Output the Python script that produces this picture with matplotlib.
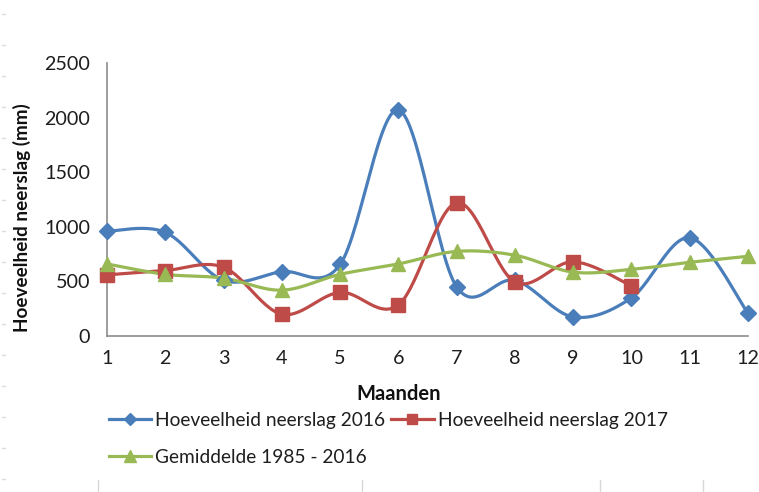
import numpy as np
import matplotlib.pyplot as plt

# data
months = [1, 2, 3, 4, 5, 6, 7, 8, 9, 10, 11, 12]
rain_2016 = [960, 950, 510, 590, 655, 2070, 450, 510, 175, 350, 900, 210]
months_2017 = [1, 2, 3, 4, 5, 6, 7, 8, 9, 10]
rain_2017 = [560, 600, 630, 200, 400, 285, 1220, 495, 680, 460]
avg_1985_2016 = [660, 565, 530, 420, 565, 660, 775, 740, 585, 610, 675, 730]

labels = ["Hoeveelheid neerslag 2016", "Hoeveelheid neerslag 2017", "Gemiddelde 1985 - 2016"]
colors = ["#4A7EBB", "#BE4B48", "#98B954"]
yticks = [0, 500, 1000, 1500, 2000, 2500]

plt.rcParams['font.family'] = ['Lato', 'DejaVu Sans']


def smooth(x, y, n=30):
    # Excel-style smoothed line: cubic Bezier, control points from neighbours / 6
    p = np.column_stack([x, y]).astype(float)
    ext = np.vstack([p[0], p, p[-1]])
    t = np.linspace(0, 1, n)[:, None]
    segs = []
    for i in range(len(p) - 1):
        p0, p3 = ext[i + 1], ext[i + 2]
        c1 = p0 + (ext[i + 2] - ext[i]) / 6
        c2 = p3 - (ext[i + 3] - ext[i + 1]) / 6
        segs.append((1 - t) ** 3 * p0 + 3 * (1 - t) ** 2 * t * c1 + 3 * (1 - t) * t ** 2 * c2 + t ** 3 * p3)
    s = np.vstack(segs)
    return s[:, 0], s[:, 1]


fig = plt.figure(figsize=(7.59, 4.92), dpi=100)
ax = fig.add_axes([0.141, 0.317, 0.8445, 0.555])

series = [(months, rain_2016, 'D', 8), (months_2017, rain_2017, 's', 9.5), (months, avg_1985_2016, '^', 10)]
handles = []
for (x, y, m, ms), c, lab in zip(series, colors, labels):
    sx, sy = smooth(x, y)
    ax.plot(sx, sy, color=c, lw=2.3, clip_on=False, zorder=3)
    ax.plot(x, y, ls='none', marker=m, ms=ms, color=c, clip_on=False, zorder=4)
    h, = ax.plot([], [], color=c, lw=2.3, marker=m, ms=ms * 0.8)
    handles.append(h)

ax.set_xlim(1, 12)
ax.set_ylim(0, 2500)
ax.set_xticks(months)
ax.set_yticks(yticks)
ax.tick_params(length=0, labelsize=14.2, colors='#1E1E1E', pad=12)
ax.tick_params(axis='x', pad=10)
for side in ['top', 'right']:
    ax.spines[side].set_visible(False)
for side in ['left', 'bottom']:
    ax.spines[side].set_color('#8C8C8C')
    ax.spines[side].set_linewidth(1.2)

fig.text(0.029, 0.558, "Hoeveelheid neerslag (mm)", rotation=90, ha='center', va='center',
         fontsize=13.6, fontweight='bold', color='#111111')
fig.text(0.525, 1 - 394 / 492, "Maanden", ha='center', va='center', fontsize=14.5,
         fontweight='bold', color='#111111')

fig.legend([handles[0], handles[2], handles[1]], [labels[0], labels[2], labels[1]],
           ncol=2, loc='upper left', bbox_to_anchor=(0.143, 1 - 412 / 492), frameon=False,
           fontsize=13.8, borderpad=0, borderaxespad=0, handlelength=2.2, handletextpad=0.25,
           columnspacing=0.3, labelspacing=1.05, numpoints=1, labelcolor='#1E1E1E')

# faint separator ticks along the lower edge, like the source screenshot
for xp in [98, 362, 600, 703]:
    fig.add_artist(plt.Line2D([xp / 759, xp / 759], [0, 12 / 492], color='#D8D8D8', lw=1))
# faint dots down the left edge of the screenshot
for yp in range(14, 480, 31):
    fig.add_artist(plt.Line2D([2 / 759, 5 / 759], [1 - yp / 492] * 2, color='#DDDDDD', lw=1))

fig.savefig("out.png", dpi=100, facecolor='white')
